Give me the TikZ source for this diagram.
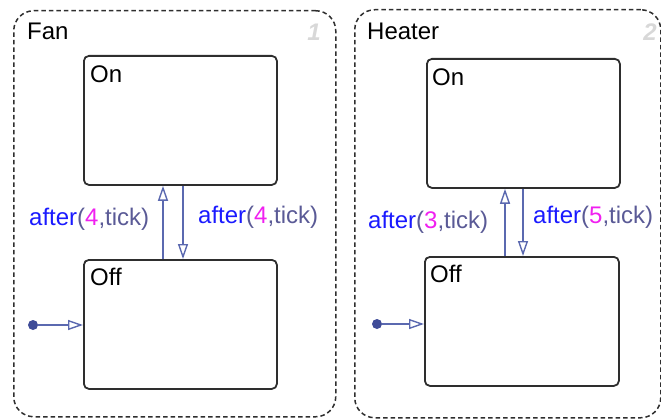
\documentclass[tikz,border=0pt]{standalone}
\usepackage{fontspec}
\setmainfont{Liberation Sans}
\usetikzlibrary{arrows.meta}
\definecolor{trcol}{HTML}{5B69B0}
\definecolor{dotcol}{HTML}{3F4C98}
\definecolor{kwblue}{HTML}{1A1AFF}
\definecolor{argcol}{HTML}{5A5A96}
\definecolor{numcol}{HTML}{F020F0}
\definecolor{boxcol}{HTML}{2E2E2E}
\definecolor{idcol}{HTML}{D8D8D8}
\tikzset{
  chart/.style={draw=boxcol, line width=1.5pt, dash pattern=on 4.5pt off 3pt, rounded corners=20pt},
  statebox/.style={draw=boxcol, line width=1.8pt, rounded corners=5pt, anchor=north west, inner sep=0pt},
  txt/.style={font=\fontsize{24}{26}\selectfont, anchor=base west, inner sep=0pt, text=black},
  trlbl/.style={font=\fontsize{24}{26}\selectfont, anchor=base west, inner sep=0pt},
  tr/.style={draw=trcol, line width=1.4pt, -{Triangle[open, length=15pt, width=10pt, line width=1.4pt]}},
  idnum/.style={font=\fontsize{24}{26}\selectfont\bfseries\itshape, text=idcol, inner sep=0pt},
  initdot/.style={circle, fill=dotcol, inner sep=0pt, minimum size=10pt}
}
\newcommand{\aft}[1]{\textcolor{kwblue}{after}\textcolor{argcol}{(}\textcolor{numcol}{#1}\textcolor{argcol}{,tick)}}
\begin{document}
\begin{tikzpicture}[x=1pt,y=-1pt]
\useasboundingbox (0,0) rectangle (661,420);
% Fan chart
\node[chart, anchor=north west, minimum width=322pt, minimum height=406pt, inner sep=0pt] (fan) at (13,10) {};
\node[txt] (fantitle) at (27,40) {Fan};
\node[idnum] (fanid) at (314,32) {1};
\node[statebox, minimum width=193pt, minimum height=129pt] (fanon) at (83,55) {};
\node[txt] (fanonlbl) at (90,82) {On};
\node[statebox, minimum width=193pt, minimum height=129pt] (fanoff) at (83,259) {};
\node[txt] (fanofflbl) at (90,285) {Off};
\coordinate (fanupx) at (163,0);
\coordinate (fandnx) at (183,0);
\draw[tr] (fanoff.north -| fanupx) -- (fanon.south -| fanupx);
\draw[tr] (fanon.south -| fandnx) -- (fanoff.north -| fandnx);
\node[trlbl] (fanl1) at (29,225) {\aft{4}};
\node[trlbl] (fanl2) at (198,223) {\aft{4}};
\node[initdot] (faninit) at (33,325) {};
\draw[tr] (faninit) -- (faninit -| fanoff.west);
% Heater chart
\node[chart, anchor=north west, minimum width=306pt, minimum height=408pt, inner sep=0pt] (heat) at (354,9) {};
\node[txt] (heattitle) at (367,40) {Heater};
\node[idnum] (heatid) at (650,32) {2};
\node[statebox, minimum width=193pt, minimum height=129pt] (heaton) at (426,58) {};
\node[txt] (heatonlbl) at (432,85) {On};
\node[statebox, minimum width=194pt, minimum height=129pt] (heatoff) at (424,256) {};
\node[txt] (heatofflbl) at (430,282) {Off};
\coordinate (heatupx) at (505,0);
\coordinate (heatdnx) at (523,0);
\draw[tr] (heatoff.north -| heatupx) -- (heaton.south -| heatupx);
\draw[tr] (heaton.south -| heatdnx) -- (heatoff.north -| heatdnx);
\node[trlbl] (heatl1) at (368,228) {\aft{3}};
\node[trlbl] (heatl2) at (533,223) {\aft{5}};
\node[initdot] (heatinit) at (377,324) {};
\draw[tr] (heatinit) -- (heatinit -| heatoff.west);
\end{tikzpicture}
\end{document}
